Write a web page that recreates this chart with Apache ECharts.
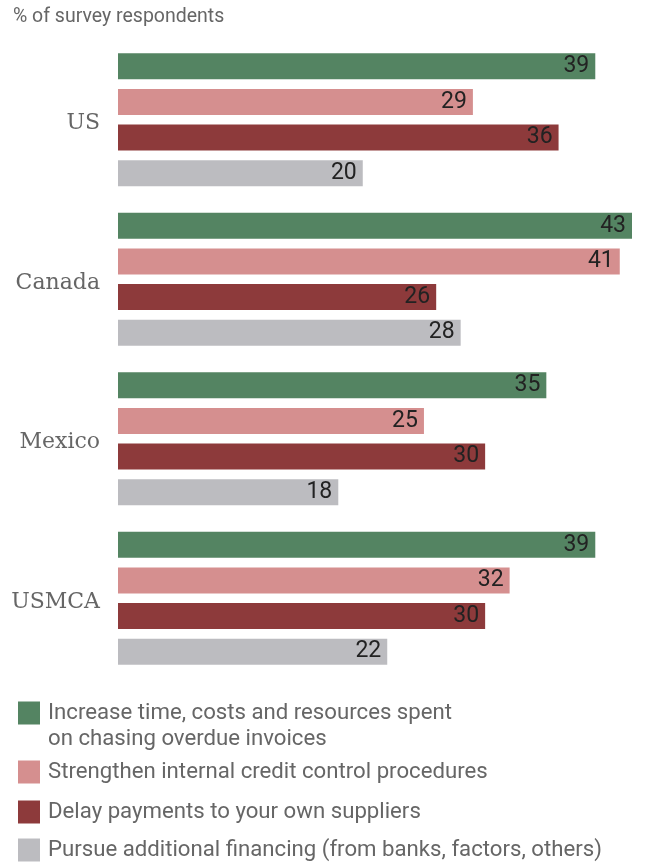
<!DOCTYPE html>
<html>
<head>
<meta charset="utf-8">
<script src="https://cdn.jsdelivr.net/npm/echarts@6/dist/echarts.min.js"></script>
<style>
  html, body { margin: 0; padding: 0; background: #fff; }
  #chart { width: 645px; height: 863px; }
</style>
</head>
<body>
<div id="chart"></div>
<script>
const countries = ["US", "Canada", "Mexico", "USMCA"];
const seriesNames = [
  "Increase time, costs and resources spent\non chasing overdue invoices",
  "Strengthen internal credit control procedures",
  "Delay payments to your own suppliers",
  "Pursue additional financing (from banks, factors, others)"
];
const increaseTime = [39, 43, 35, 39];
const strengthenCredit = [29, 41, 25, 32];
const delayPayments = [36, 26, 30, 30];
const pursueFinancing = [20, 28, 18, 22];

const colors = ["#548462", "#d58f8f", "#8d3a3b", "#bcbcc0"];
const values = [increaseTime, strengthenCredit, delayPayments, pursueFinancing];
const legendTops = [700, 759, 799, 837];

const sans = "Roboto";

// the first legend item has two lines, so its square is drawn in the top part of a taller icon
const squareIcon = "path://M0,0H22V23H0Z";
const topSquareIcon = "path://M0,0H22V23H0Z M0,49L0.01,49";

const myChart = echarts.init(document.getElementById("chart"));

const option = {
  animation: false,
  title: {
    text: "% of survey respondents",
    left: 13,
    top: 7,
    padding: 0,
    textStyle: { fontFamily: sans, fontSize: 19.5, fontWeight: "normal", color: "#666" }
  },
  legend: seriesNames.map((name, i) => ({
    data: [{ name: name, icon: i === 0 ? topSquareIcon : squareIcon }],
    left: 18,
    top: legendTops[i],
    padding: 0,
    itemWidth: 22,
    itemHeight: i === 0 ? 49 : 23,
    itemGap: 0,
    selectedMode: false,
    textStyle: {
      fontFamily: sans,
      fontSize: 22.2,
      color: "#666",
      lineHeight: 26,
      padding: [0, 0, 0, 3]
    }
  })),
  grid: {
    left: 118,
    right: 13,
    top: 40,
    bottom: 185
  },
  xAxis: {
    type: "value",
    min: 0,
    max: 42,
    show: false
  },
  yAxis: {
    type: "category",
    inverse: true,
    data: countries,
    axisLine: { show: false },
    axisTick: { show: false },
    axisLabel: {
      margin: 18,
      formatter: v => "{c|" + v + "}",
      rich: {
        c: {
          fontFamily: "DejaVu Serif",
          fontSize: 22,
          color: "#666",
          padding: [8, 0, 0, 0]
        }
      }
    }
  },
  series: seriesNames.map((name, i) => ({
    name: name,
    type: "bar",
    data: values[i],
    barWidth: 26,
    barGap: "37%",
    barCategoryGap: "16%",
    itemStyle: { color: colors[i] },
    label: {
      show: true,
      position: "insideRight",
      distance: 6,
      fontFamily: sans,
      fontSize: 23,
      color: "#222"
    }
  }))
};

myChart.setOption(option);
window.onresize = function () {
  myChart.resize();
};
</script>
</body>
</html>
